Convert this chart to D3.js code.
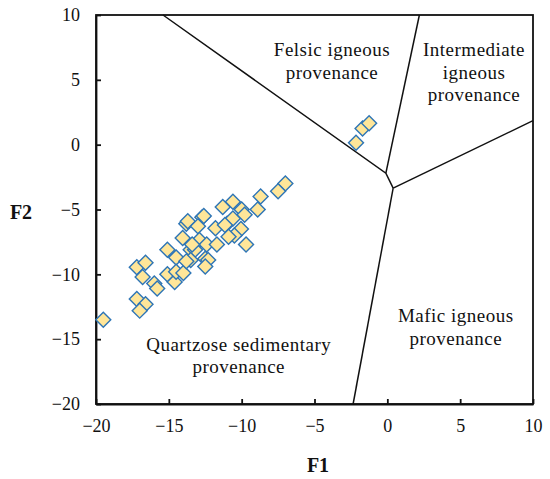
<!DOCTYPE html>
<html>
<head>
<meta charset="utf-8">
<script src="https://cdn.jsdelivr.net/npm/d3@7"></script>
<style>
  body { margin: 0; background: #fff; }
  svg { display: block; }
  text { font-family: "Liberation Serif", "Times New Roman", serif; fill: #111; }
</style>
</head>
<body>
<svg id="chart"></svg>
<script>
// samples (F1, F2)
var f1 = [-19.5, -17.2, -16.6, -17.0, -17.2, -16.6, -16.8, -16.0, -15.8, -15.1,
          -14.5, -15.1, -14.6, -14.5, -14.0, -14.05, -13.8, -13.7, -12.7, -13.0,
          -13.5, -12.9, -12.4, -13.2, -12.5, -12.3, -11.7, -11.8, -11.3, -10.6,
          -11.0, -10.6, -13.5, -7.0, -7.5, -8.7, -8.9, -9.7, -10.0, -10.05,
          -9.8, -10.5, -11.15, -10.9, -12.6, -13.4, -12.5, -13.8, -2.15, -1.7, -1.25];
var f2 = [-13.5, -11.9, -12.3, -12.8, -9.45, -9.1, -10.2, -10.7, -11.1, -8.1,
          -8.7, -10.0, -10.6, -9.8, -9.9, -7.2, -6.1, -5.9, -5.6, -6.3,
          -8.1, -7.35, -7.7, -8.1, -8.8, -8.9, -7.7, -6.45, -4.8, -4.4,
          -6.1, -5.7, -8.9, -3.0, -3.6, -4.0, -5.0, -7.7, -5.0, -6.5,
          -5.4, -7.0, -6.2, -7.1, -5.5, -7.7, -9.4, -9.0, 0.15, 1.25, 1.65];

// field boundaries
var boundaries = [
  [[-15.4, 10], [-0.1, -2.2], [0.4, -3.35]],
  [[2.2, 10], [-0.1, -2.2]],
  [[0.4, -3.35], [10, 1.85]],
  [[0.4, -3.35], [-2.35, -20]]
];

var fieldLabels = [
  { x: -3.8, y: 6.8, lines: ["Felsic igneous", "provenance"] },
  { x: 5.95, y: 6.8, lines: ["Intermediate", "igneous", "provenance"] },
  { x: 4.7, y: -13.7, lines: ["Mafic igneous", "provenance"] },
  { x: -10.2, y: -15.9, lines: ["Quartzose sedimentary", "provenance"] }
];

var xTicks = [-20, -15, -10, -5, 0, 5, 10];
var yTicks = [-20, -15, -10, -5, 0, 5, 10];

var width = 550, height = 479;
var svg = d3.select("svg#chart").attr("width", width).attr("height", height);

var x = d3.scaleLinear().domain([-20, 10]).range([96, 533]);
var y = d3.scaleLinear().domain([-20, 10]).range([404, 15]);

function fmt(d) { return d < 0 ? "\u2212" + Math.abs(d) : String(d); }

// axes
var xAxis = svg.append("g")
  .attr("transform", "translate(0," + y(-20) + ")")
  .call(d3.axisBottom(x).tickValues(xTicks).tickFormat(fmt)
    .tickSizeInner(-5).tickSizeOuter(0).tickPadding(15));
var yAxis = svg.append("g")
  .attr("transform", "translate(" + x(-20) + ",0)")
  .call(d3.axisLeft(y).tickValues(yTicks).tickFormat(fmt)
    .tickSizeInner(-5).tickSizeOuter(0).tickPadding(16));
[xAxis, yAxis].forEach(function(g) {
  g.selectAll("path, line").attr("stroke", "#111").attr("stroke-width", 1.8);
  g.selectAll("text").attr("font-size", 18)
    .style("font-family", '"Liberation Serif", "Times New Roman", serif').attr("fill", "#111");
});

// frame
svg.append("rect")
  .attr("x", x(-20)).attr("y", y(10))
  .attr("width", x(10) - x(-20)).attr("height", y(-20) - y(10))
  .attr("fill", "none").attr("stroke", "#111").attr("stroke-width", 1.8);

// boundaries
var line = d3.line().x(function(d) { return x(d[0]); }).y(function(d) { return y(d[1]); });
svg.append("g").selectAll("path").data(boundaries).enter()
  .append("path")
  .attr("d", line)
  .attr("fill", "none").attr("stroke", "#111").attr("stroke-width", 1.5);

// field labels
var lab = svg.append("g").selectAll("text").data(fieldLabels).enter()
  .append("text")
  .attr("text-anchor", "middle")
  .attr("font-size", 19)
  .attr("letter-spacing", 0.5)
  .attr("x", function(d) { return x(d.x); })
  .attr("y", function(d) { return y(d.y); });
lab.selectAll("tspan").data(function(d) { return d.lines.map(function(t) { return { t: t, x: x(d.x) }; }); })
  .enter().append("tspan")
  .attr("x", function(d) { return d.x; })
  .attr("dy", function(d, i) { return i === 0 ? 0 : 22.5; })
  .text(function(d) { return d.t; });

// points
var pts = f1.map(function(v, i) { return [v, f2[i]]; });
var sym = d3.symbol().type(d3.symbolSquare).size(112);
svg.append("g").selectAll("path").data(pts).enter()
  .append("path")
  .attr("d", sym)
  .attr("transform", function(d) { return "translate(" + x(d[0]) + "," + y(d[1]) + ") rotate(45)"; })
  .attr("fill", "#FFE699")
  .attr("stroke", "#2E75B6")
  .attr("stroke-width", 1.4);

// axis titles
svg.append("text")
  .attr("x", 318).attr("y", 472)
  .attr("text-anchor", "middle")
  .attr("font-size", 20).attr("font-weight", "bold")
  .text("F1");
svg.append("text")
  .attr("x", 21).attr("y", 219)
  .attr("text-anchor", "middle")
  .attr("font-size", 20).attr("font-weight", "bold")
  .text("F2");
</script>
</body>
</html>
